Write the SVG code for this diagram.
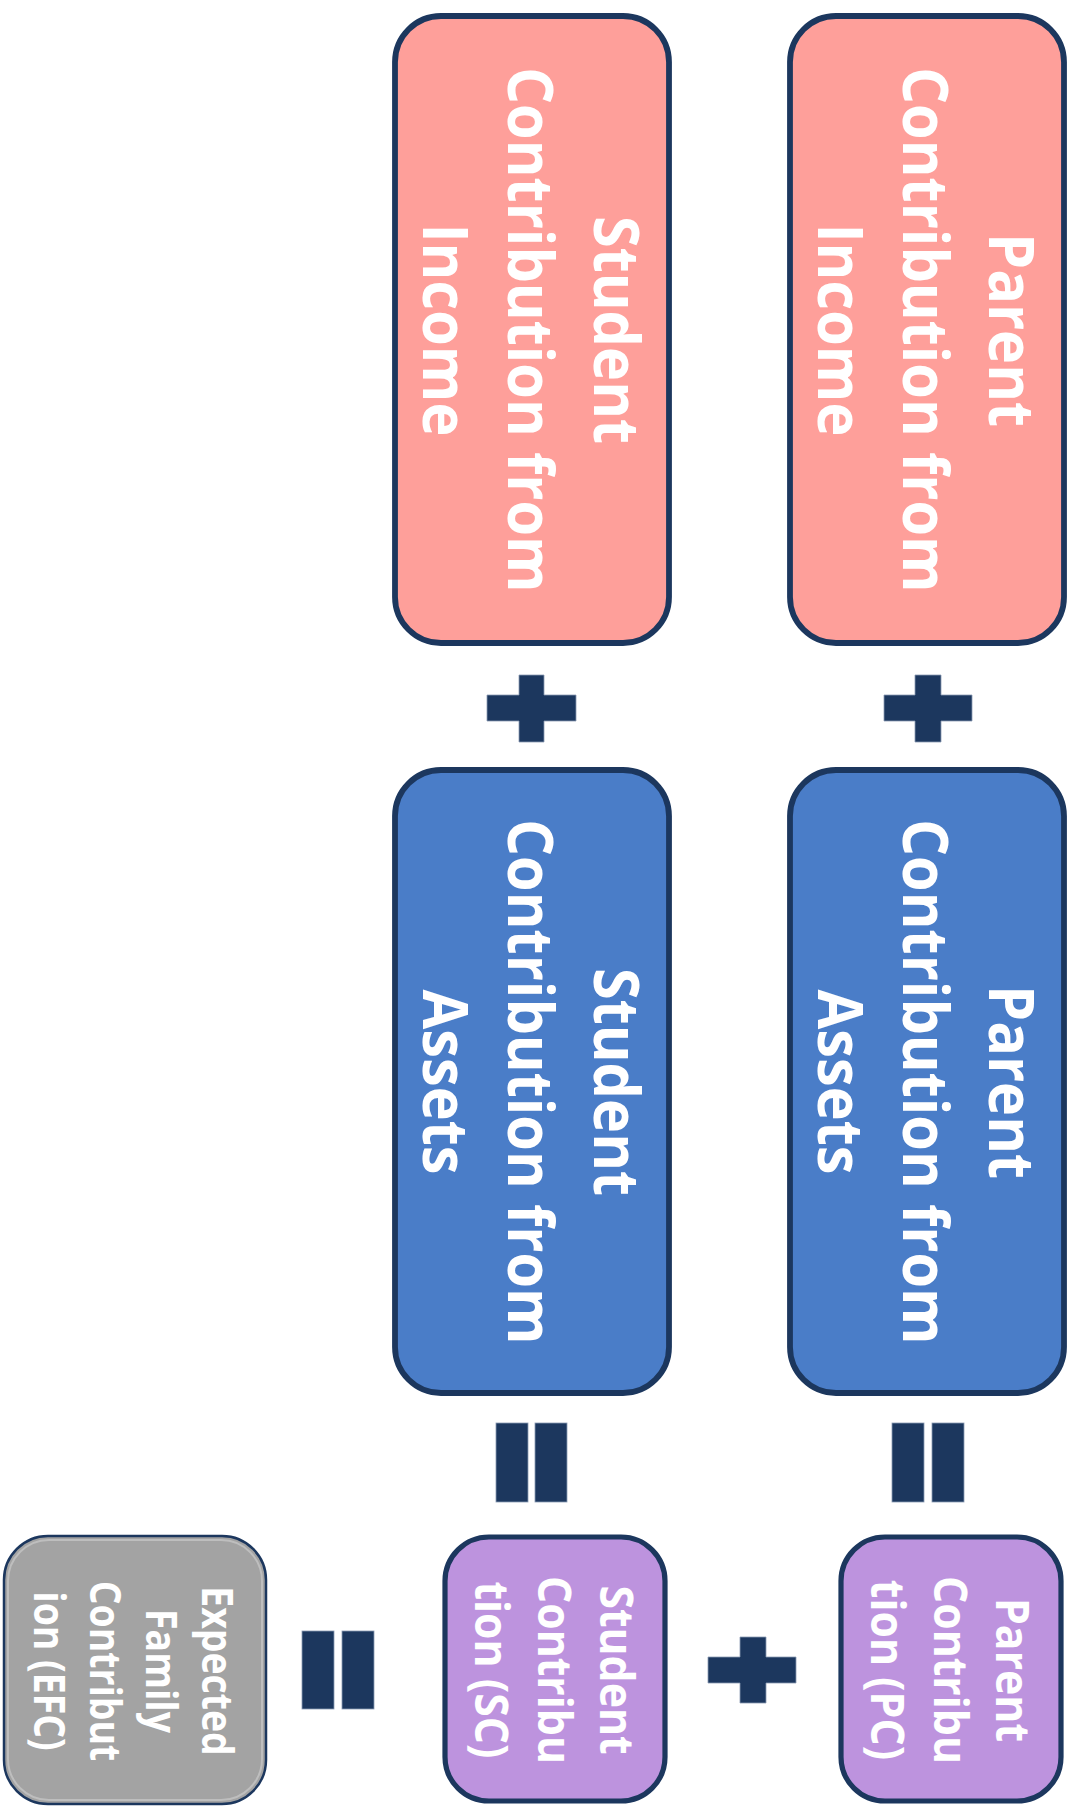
<svg xmlns="http://www.w3.org/2000/svg" width="1074" height="1814" viewBox="0 0 1074 1814">
<style>
.box{stroke:#1c375e;stroke-width:5.8}
.red{fill:#fe9f9a}
.blue{fill:#4a7dc8}
.purple{fill:#bd93de;stroke-width:5.2}
.gray{fill:#a3a3a3;stroke:#1c375e;stroke-width:2.5}
.op{fill:#1c375e;stroke:#8a9bb3;stroke-width:0.8}
.t{font-family:"Open Sans","Noto Sans","DejaVu Sans",sans-serif;font-weight:700;fill:#ffffff;text-anchor:middle}
.big{font-size:63px}
.mid{font-size:47px}
.sm{font-size:43px}
</style>
<rect width="1074" height="1814" fill="#ffffff"/>
<g id="student-income">
<rect class="box red" x="395" y="16" width="274" height="627" rx="46"/>
<text class="t big" transform="translate(532,330) rotate(90) scale(0.915,1)"><tspan x="0" y="-62">Student</tspan><tspan x="0" y="24">Contribution from</tspan><tspan x="0" y="109">Income</tspan></text>
</g>
<g id="parent-income">
<rect class="box red" x="790" y="16" width="274" height="627" rx="46"/>
<text class="t big" transform="translate(927,330) rotate(90) scale(0.915,1)"><tspan x="0" y="-62">Parent</tspan><tspan x="0" y="24">Contribution from</tspan><tspan x="0" y="109">Income</tspan></text>
</g>
<g id="student-assets">
<rect class="box blue" x="395" y="770" width="274" height="623" rx="46"/>
<text class="t big" transform="translate(532,1082) rotate(90) scale(0.915,1)"><tspan x="0" y="-62">Student</tspan><tspan x="0" y="24">Contribution from</tspan><tspan x="0" y="109">Assets</tspan></text>
</g>
<g id="parent-assets">
<rect class="box blue" x="790" y="770" width="274" height="623" rx="46"/>
<text class="t big" transform="translate(927,1082) rotate(90) scale(0.915,1)"><tspan x="0" y="-62">Parent</tspan><tspan x="0" y="24">Contribution from</tspan><tspan x="0" y="109">Assets</tspan></text>
</g>
<g id="student-contribution">
<rect class="box purple" x="445" y="1537" width="220" height="264" rx="44"/>
<text class="t mid" transform="translate(555,1670) rotate(90) scale(0.91,1)"><tspan x="0" y="-45">Student</tspan><tspan x="0" y="17">Contribu</tspan><tspan x="0" y="80">tion (SC)</tspan></text>
</g>
<g id="parent-contribution">
<rect class="box purple" x="841" y="1537" width="220" height="264" rx="44"/>
<text class="t mid" transform="translate(951,1670) rotate(90) scale(0.91,1)"><tspan x="0" y="-45">Parent</tspan><tspan x="0" y="17">Contribu</tspan><tspan x="0" y="80">tion (PC)</tspan></text>
</g>
<g id="efc">
<rect class="gray" x="4" y="1536" width="262" height="268" rx="44"/>
<rect x="8" y="1540" width="254" height="260" rx="41" fill="none" stroke="#c9c9c9" stroke-width="2" opacity="0.7"/>
<text class="t sm" transform="translate(136,1671) rotate(90) scale(0.87,1)"><tspan x="0" y="-66">Expected</tspan><tspan x="0" y="-10">Family</tspan><tspan x="0" y="46">Contribut</tspan><tspan x="0" y="102">ion (EFC)</tspan></text>
</g>
<g id="connectors">
<path class="op" d="M519 675H544V695H576V721H544V742H519V721H487V695H519Z"/>
<path class="op" d="M915 675H941V695H972V721H941V742H915V721H884V695H915Z"/>
<path class="op" d="M740 1637H766V1657H796V1683H766V1703H740V1683H708V1657H740Z"/>
<rect class="op" x="496" y="1423" width="32" height="79"/>
<rect class="op" x="535" y="1423" width="32" height="79"/>
<rect class="op" x="892" y="1423" width="32" height="79"/>
<rect class="op" x="932" y="1423" width="32" height="79"/>
<rect class="op" x="302" y="1631" width="32" height="78"/>
<rect class="op" x="342" y="1631" width="32" height="78"/>
</g>
</svg>
